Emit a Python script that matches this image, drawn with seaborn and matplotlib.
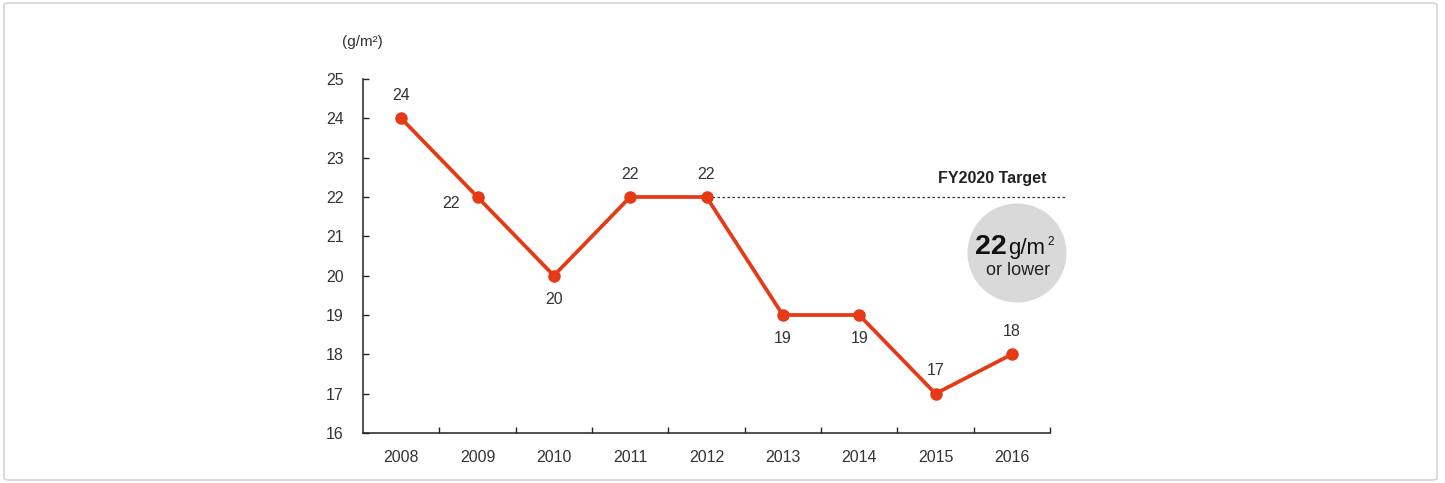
import matplotlib
matplotlib.use("Agg")
import matplotlib.pyplot as plt
import seaborn as sns
import pandas as pd
from matplotlib.patches import FancyBboxPatch, Ellipse

years = ["2008", "2009", "2010", "2011", "2012", "2013", "2014", "2015", "2016"]
values = [24, 22, 20, 22, 22, 19, 19, 17, 18]
label_pos = ["above", "left", "below", "above", "above", "below", "below", "above", "above"]
target_value = 22
y_ticks = [16, 17, 18, 19, 20, 21, 22, 23, 24, 25]

sns.set_theme(style="white")
plt.rcParams['font.family'] = ['Liberation Sans', 'DejaVu Sans']

RED = "#e63a17"
TXT = "#333333"
FS = 11.5

df = pd.DataFrame({"year": years, "value": values})
df["x"] = range(len(years))

fig = plt.figure(figsize=(14.45, 4.83), dpi=100)
ax = fig.add_axes([363/1445, 1-433/483, (1050-363)/1445, (433-79)/483])

# border
fig.patches.append(FancyBboxPatch((4/1445, 3/483), 1433/1445, 477/483,
                                  boxstyle="round,pad=0,rounding_size=0.004",
                                  transform=fig.transFigure, facecolor="none",
                                  edgecolor="#d4d4d4", linewidth=1.2))

sns.lineplot(data=df, x="x", y="value", ax=ax, color=RED, linewidth=2.7,
             marker="o", markersize=9, markeredgewidth=0, markerfacecolor=RED,
             clip_on=False, zorder=5)

ax.set_xlim(-0.5, len(years) - 0.5)
ax.set_ylim(16, 25)
ax.set_yticks(y_ticks)
ax.set_yticklabels([str(t) for t in y_ticks], fontsize=FS, color=TXT)
ax.set_xticks(range(len(years)))
ax.set_xticklabels(years, fontsize=FS, color=TXT)
ax.tick_params(axis="x", length=0, pad=12)
ax.tick_params(axis="y", length=4, width=1, direction="in", color="#222222", pad=14, left=True)
# minor ticks on x at category boundaries pointing up
ax.set_xticks([i + 0.5 for i in range(len(years))], minor=True)
ax.tick_params(axis="x", which="minor", length=4, width=1, direction="in", color="#222222", bottom=True)
ax.set_xlabel("")
ax.set_ylabel("")
for s in ["top", "right"]:
    ax.spines[s].set_visible(False)
for s in ["left", "bottom"]:
    ax.spines[s].set_color("#222222")
    ax.spines[s].set_linewidth(1.1)

# data labels
for i, (v, p) in enumerate(zip(values, label_pos)):
    if p == "above":
        ax.annotate(str(v), (i, v), xytext=(0, 16.5), textcoords="offset points",
                    ha="center", va="center", fontsize=FS, color=TXT)
    elif p == "below":
        ax.annotate(str(v), (i, v), xytext=(0, -17), textcoords="offset points",
                    ha="center", va="center", fontsize=FS, color=TXT)
    else:
        ax.annotate(str(v), (i, v), xytext=(-13, -4.5), textcoords="offset points",
                    ha="right", va="center", fontsize=FS, color=TXT)

# target line
ax.plot([4, 8.72], [target_value, target_value], linestyle=(0, (2, 2)), color="#333333",
        linewidth=0.9, clip_on=False, zorder=1)
ax.text(8.45, target_value + 0.28, "FY2020 Target", ha="right", va="bottom",
        fontsize=11.5, color="#222222", fontweight="bold")

# circle
fig.patches.append(Ellipse((1017/1445, 1-253/483), 99/1445, 99/483,
                           transform=fig.transFigure, facecolor="#d9d9d9",
                           edgecolor="none"))
fig.text(1007/1445, 1-254/483, "22", fontsize=20.5, fontweight="bold", color="#111111",
         ha="right", va="baseline")
fig.text(1008/1445, 1-254/483, "g/m", fontsize=16, color="#111111",
         ha="left", va="baseline")
fig.text(1047/1445, 1-245/483, "2", fontsize=8.5, color="#111111",
         ha="left", va="baseline")
fig.text(1018/1445, 1-275/483, "or lower", fontsize=13, color="#222222",
         ha="center", va="baseline")

# unit
fig.text(362/1445, 1-42/483, "(g/m²)", fontsize=11, color=TXT, ha="center", va="center")

fig.savefig("out.png", dpi=100)
